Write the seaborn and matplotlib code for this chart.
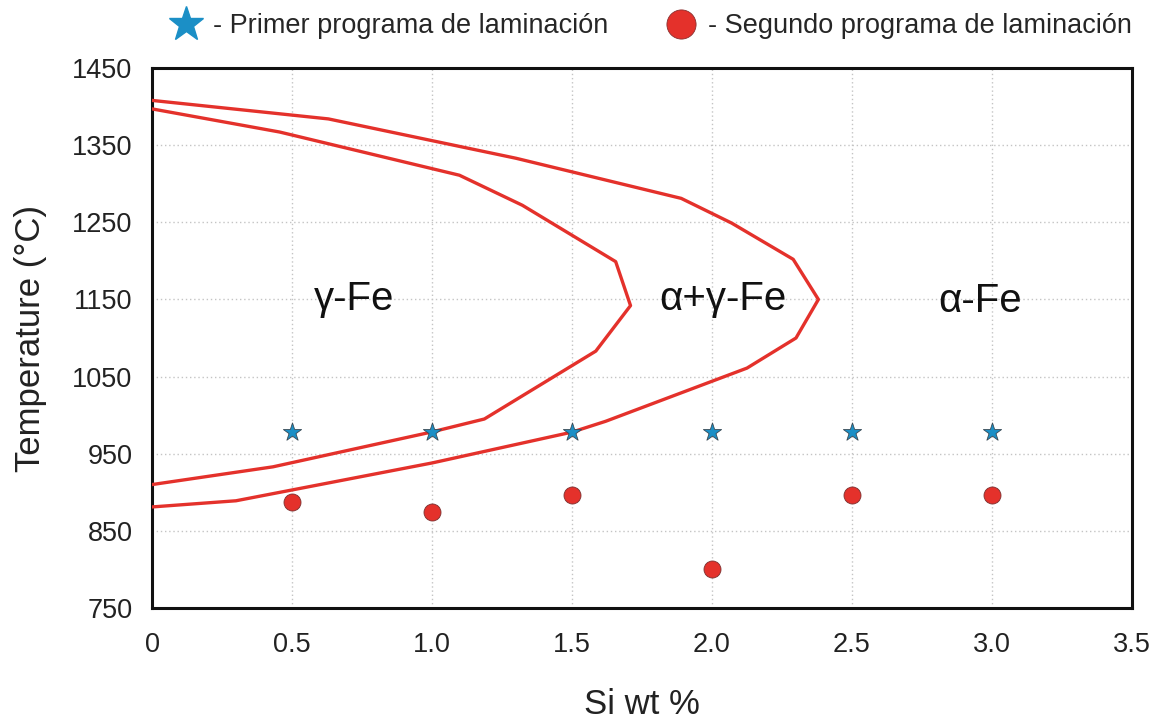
import matplotlib
matplotlib.use("Agg")
import matplotlib.pyplot as plt
from matplotlib.lines import Line2D
import seaborn as sns
import pandas as pd

# ---- data ----
outer_si = [0.0, 0.63, 1.30, 1.89, 2.07, 2.29, 2.38, 2.30, 2.125, 1.62, 1.50, 1.00, 0.30, 0.0]
outer_temp = [1408, 1384, 1333, 1281, 1249, 1202, 1150, 1100, 1061, 992, 978, 938, 889, 881]

inner_si = [0.0, 0.456, 1.098, 1.323, 1.656, 1.709, 1.585, 1.187, 0.997, 0.432, 0.0]
inner_temp = [1397, 1367, 1311, 1272, 1199, 1142, 1083, 995, 978, 933, 910]

prog_si = [0.5, 1.0, 1.5, 2.0, 2.5, 3.0]
prog1_temp = [978, 978, 978, 978, 978, 978]
prog2_temp = [887, 875, 896, 800, 896, 896]

x_ticks = [0, 0.5, 1.0, 1.5, 2.0, 2.5, 3.0, 3.5]
x_ticklabels = ["0", "0.5", "1.0", "1.5", "2.0", "2.5", "3.0", "3.5"]
y_ticks = [750, 850, 950, 1050, 1150, 1250, 1350, 1450]

region_labels = ["γ-Fe", "α+γ-Fe", "α-Fe"]
region_si = [0.723, 2.04, 2.957]
region_temp = [1150, 1150, 1148]

legend_labels = ["- Primer programa de laminación", "- Segundo programa de laminación"]

# ---- style ----
sns.set_style("white")
plt.rcParams["font.family"] = ["Liberation Sans", "DejaVu Sans"]

RED = "#e4312b"
BLUE = "#1b8fc6"

fig = plt.figure(figsize=(11.66, 7.19), dpi=100)
ax = fig.add_axes([152 / 1166, 1 - 608 / 719, 980 / 1166, 540 / 719])

outer_df = pd.DataFrame({"si": outer_si, "t": outer_temp})
inner_df = pd.DataFrame({"si": inner_si, "t": inner_temp})
sns.lineplot(data=outer_df, x="si", y="t", sort=False, estimator=None,
             color=RED, linewidth=2.4, ax=ax, zorder=3)
sns.lineplot(data=inner_df, x="si", y="t", sort=False, estimator=None,
             color=RED, linewidth=2.4, ax=ax, zorder=3)

p1 = pd.DataFrame({"si": prog_si, "t": prog1_temp})
p2 = pd.DataFrame({"si": prog_si, "t": prog2_temp})
sns.scatterplot(data=p1, x="si", y="t", marker="*", s=190, color=BLUE,
                edgecolor="#3a4a55", linewidth=0.6, ax=ax, zorder=4)
sns.scatterplot(data=p2, x="si", y="t", marker="o", s=150, color=RED,
                edgecolor="#7a3030", linewidth=0.6, ax=ax, zorder=4)

for lab, xs, ts in zip(region_labels, region_si, region_temp):
    ax.text(xs, ts, lab, ha="center", va="center", fontsize=29, color="#111111", zorder=5)

ax.set_xlim(0, 3.5)
ax.set_ylim(750, 1450)
ax.set_xticks(x_ticks)
ax.set_xticklabels(x_ticklabels)
ax.set_yticks(y_ticks)
ax.tick_params(axis="both", length=0, labelsize=19.5, colors="#222222")
ax.tick_params(axis="x", pad=17)
ax.tick_params(axis="y", pad=14)

ax.grid(True, color="#c4c4c4", linestyle=(0, (1, 2)), linewidth=1.0)
ax.set_axisbelow(True)
for sp in ax.spines.values():
    sp.set_visible(True)
    sp.set_color("#111111")
    sp.set_linewidth(2.2)

ax.set_xlabel("Si wt %", fontsize=25, labelpad=22, color="#222222")
ax.set_ylabel("Temperature (°C)", fontsize=25, labelpad=18, color="#222222")

handles = [
    Line2D([], [], linestyle="none", marker="*", markersize=26, color=BLUE,
           markeredgecolor=BLUE),
    Line2D([], [], linestyle="none", marker="o", markersize=21, color=RED,
           markeredgecolor="#8a3030", markeredgewidth=0.6),
]
fig.legend(handles, legend_labels, loc="center left",
           bbox_to_anchor=(172 / 1166, 1 - 26 / 719), ncol=2, frameon=False,
           fontsize=19.5, handlelength=1.0, handletextpad=0.5, columnspacing=2.2,
           borderpad=0, borderaxespad=0)

fig.savefig("out.png", dpi=100)
